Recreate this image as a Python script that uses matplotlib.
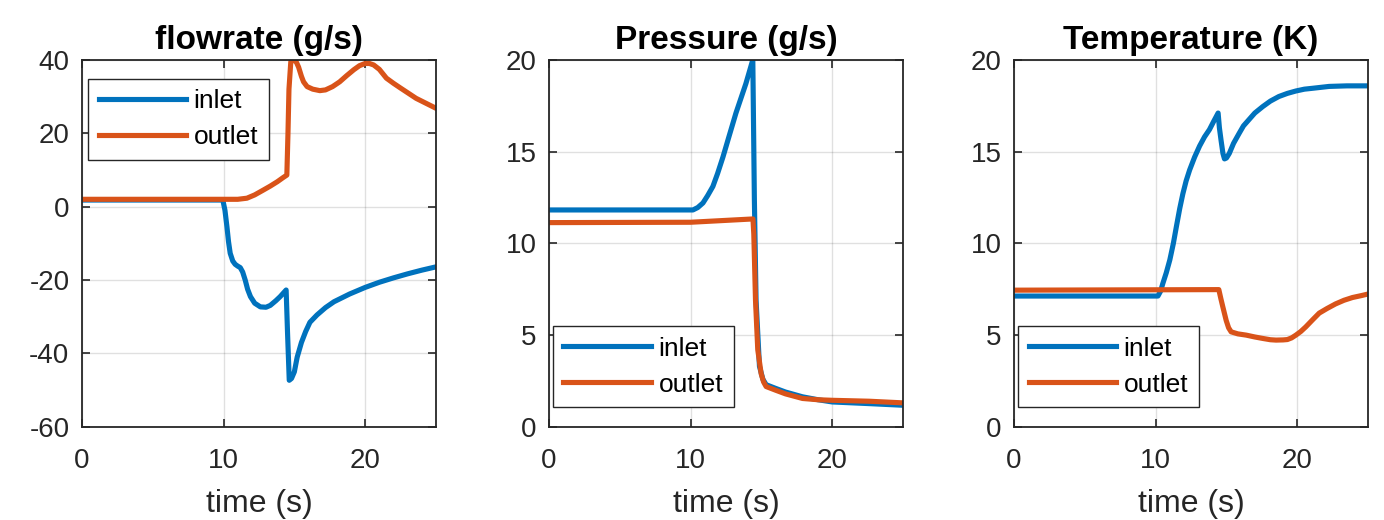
import numpy as np
import matplotlib.pyplot as plt

# ---- data ----
flow_in_t = [0, 9.95, 10.1, 10.24, 10.35, 10.47, 10.65, 10.82, 11.0, 11.18, 11.35, 11.53,
             11.7, 11.9, 12.2, 12.6, 13.0, 13.3, 13.7, 14.0, 14.42,
             14.52, 14.64, 14.8, 15.0, 15.2, 15.5, 15.8, 16.1, 16.6, 17.2, 17.8, 18.9,
             20.0, 21.0, 22.0, 23.0, 24.0, 25.0]
flow_in_v = [1.8, 1.8, -1.0, -5.5, -9.5, -12.7, -14.8, -15.7, -16.2, -16.6, -17.8, -20.0,
             -22.5, -24.5, -26.3, -27.3, -27.4, -26.9, -25.6, -24.5, -22.7,
             -34.5, -47.3, -46.8, -45.0, -41.0, -37.0, -34.0, -31.5, -29.5, -27.5, -25.9, -23.8,
             -22.0, -20.6, -19.4, -18.3, -17.3, -16.4]
flow_out_t = [0, 11.0, 11.65, 12.2, 12.8, 13.3, 13.8, 14.2, 14.47, 14.55, 14.62, 14.75, 14.94,
              15.15, 15.3, 15.5, 15.65, 15.9, 16.3, 16.8, 17.2, 17.7, 18.2, 18.7, 19.2,
              19.6, 20.0, 20.3, 20.6, 21.0, 21.5, 22.0, 22.5, 23.6, 25.0]
flow_out_v = [2.0, 2.0, 2.3, 3.2, 4.5, 5.6, 6.8, 7.9, 8.6, 20.0, 32.0, 39.5, 40.0,
              39.3, 38.0, 35.5, 34.0, 32.7, 32.0, 31.6, 31.8, 32.7, 34.0, 35.7, 37.3,
              38.4, 39.0, 39.0, 38.6, 37.4, 35.0, 33.6, 32.3, 29.5, 26.8]

pres_in_t = [0, 10.16, 10.5, 10.87, 11.2, 11.57, 11.9, 12.28, 12.7, 13.2, 13.9, 14.39,
             14.5, 14.62, 14.86, 15.1, 15.33, 16.0, 16.7, 17.9, 19.0, 20.0, 22.6, 25.0]
pres_in_v = [11.82, 11.82, 11.95, 12.2, 12.6, 13.1, 13.8, 14.7, 15.8, 17.1, 18.7, 20.0,
             12.4, 6.9, 3.3, 2.6, 2.3, 2.1, 1.9, 1.64, 1.48, 1.36, 1.27, 1.18]
pres_out_t = [0, 10.0, 14.4, 14.46, 14.58, 14.74, 14.98, 15.15, 15.33, 16.0, 16.7, 17.9,
              19.0, 20.0, 22.6, 25.0]
pres_out_v = [11.13, 11.15, 11.33, 10.5, 6.9, 4.2, 2.9, 2.45, 2.2, 2.0, 1.8, 1.55,
              1.48, 1.45, 1.4, 1.31]

temp_in_t = [0, 10.16, 10.35, 10.5, 10.75, 11.0, 11.25, 11.46, 11.7, 11.92, 12.15, 12.4,
             12.75, 13.1, 13.45, 13.8, 14.1, 14.41, 14.5, 14.62, 14.75, 14.86, 15.0, 15.2,
             15.5, 15.9, 16.2, 16.6, 17.0, 17.56, 18.1, 18.7, 19.3, 19.9, 20.5, 21.1,
             22.25, 23.5, 25.0]
temp_in_v = [7.13, 7.13, 7.4, 7.8, 8.4, 9.1, 10.0, 10.9, 11.9, 12.7, 13.4, 14.0,
             14.7, 15.3, 15.8, 16.2, 16.65, 17.1, 16.3, 15.6, 14.9, 14.6, 14.65, 14.9,
             15.45, 16.0, 16.4, 16.75, 17.1, 17.45, 17.75, 18.0, 18.17, 18.3, 18.4, 18.45,
             18.55, 18.58, 18.58]
temp_out_t = [0, 14.46, 14.6, 14.74, 14.98, 15.15, 15.33, 15.8, 16.4, 17.0, 17.56, 18.1,
              18.5, 19.0, 19.3, 19.6, 19.9, 20.25, 20.6, 21.1, 21.55, 22.1, 22.7, 23.3,
              23.9, 24.5, 25.0]
temp_out_v = [7.45, 7.48, 7.0, 6.55, 5.8, 5.4, 5.18, 5.07, 5.0, 4.9, 4.82, 4.75,
              4.73, 4.74, 4.76, 4.85, 5.0, 5.2, 5.45, 5.85, 6.2, 6.45, 6.7, 6.9,
              7.05, 7.15, 7.24]

titles = ['flowrate (g/s)', 'Pressure (g/s)', 'Temperature (K)']
ylims = [(-60, 40), (0, 20), (0, 20)]
yticks = [np.arange(-60, 41, 20), np.arange(0, 21, 5), np.arange(0, 21, 5)]
legend_loc = ['upper left', 'lower left', 'lower left']
legend_anchor = [(0.017, 0.948), (0.011, 0.054), (0.011, 0.054)]

series = [(flow_in_t, flow_in_v, flow_out_t, flow_out_v),
          (pres_in_t, pres_in_v, pres_out_t, pres_out_v),
          (temp_in_t, temp_in_v, temp_out_t, temp_out_v)]

blue = '#0072BD'
orange = '#D95319'
dark = '#262626'

plt.rcParams['font.family'] = ['Liberation Sans', 'DejaVu Sans']
plt.rcParams['axes.unicode_minus'] = False

fig = plt.figure(figsize=(13.84, 5.2), dpi=100)
lefts = [0.0592, 0.3967, 0.7327]

for i in range(3):
    ax = fig.add_axes([lefts[i], 0.179, 0.2558, 0.706])
    ti, vi, to, vo = series[i]
    ax.plot(ti, vi, color=blue, lw=3.7, label='inlet', solid_joinstyle='round')
    ax.plot(to, vo, color=orange, lw=3.7, label='outlet', solid_joinstyle='round')
    ax.set_xlim(0, 25)
    ax.set_ylim(*ylims[i])
    ax.set_xticks([0, 10, 20])
    ax.set_yticks(yticks[i])
    ax.grid(True, color='#000000', alpha=0.12, lw=1)
    ax.tick_params(direction='in', top=True, right=True, labelsize=20,
                   colors=dark, length=6, width=1.2)
    ax.tick_params(axis='y', pad=9)
    ax.tick_params(axis='x', pad=15)
    for s in ax.spines.values():
        s.set_color(dark)
        s.set_linewidth(1.3)
    ax.set_title(titles[i], fontsize=24, fontweight='bold', pad=8)
    ax.set_xlabel('time (s)', fontsize=23, color=dark, labelpad=11)
    leg = ax.legend(loc=legend_loc[i], bbox_to_anchor=legend_anchor[i], fontsize=19,
                    fancybox=False, handlelength=3.3, handletextpad=0.3,
                    borderaxespad=0, framealpha=1, edgecolor=dark,
                    borderpad=0.4, labelspacing=0.45)
    leg.get_frame().set_linewidth(1.0)

fig.savefig('out.png', dpi=100)
